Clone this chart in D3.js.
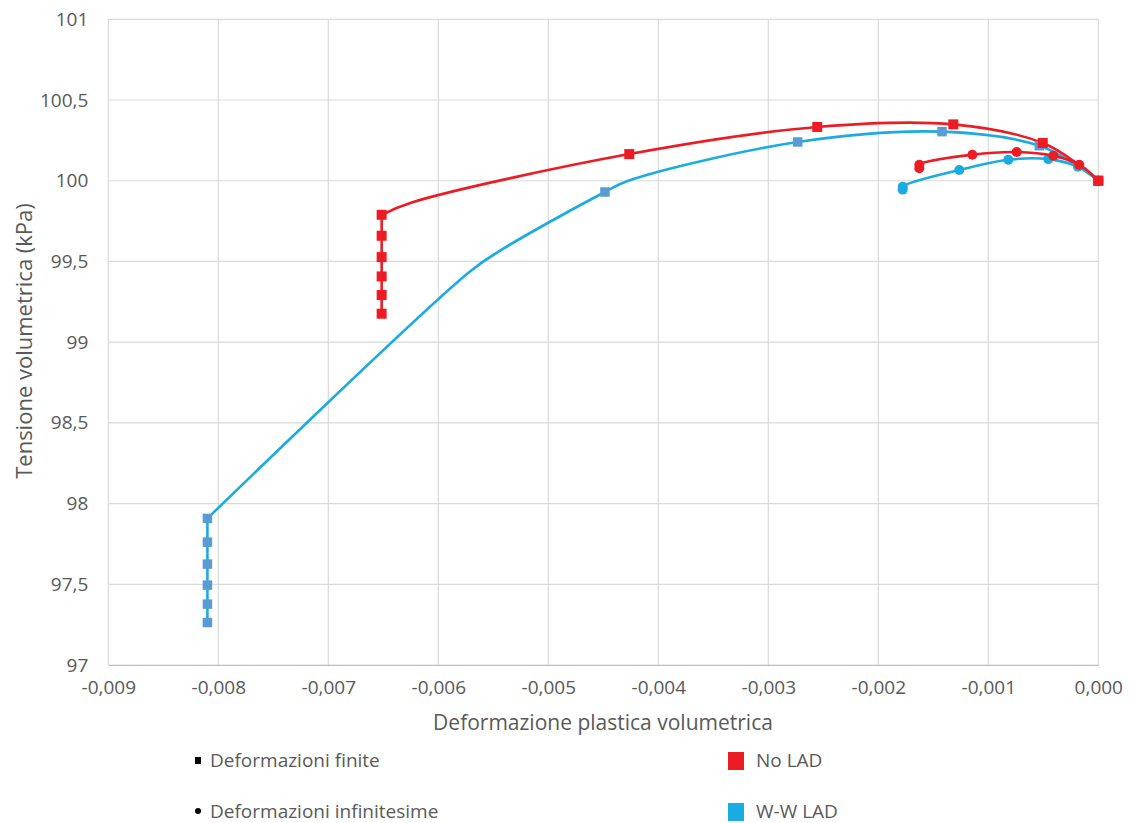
<!DOCTYPE html>
<html>
<head>
<meta charset="utf-8">
<script src="https://cdn.jsdelivr.net/npm/d3@7"></script>
<style>
  html, body { margin: 0; padding: 0; background: #fff; }
  svg { display: block; }
  text { font-family: "Open Sans", "DejaVu Sans", sans-serif; fill: #595959; }
</style>
</head>
<body>
<svg id="chart" width="1130" height="823"></svg>
<script>
// Axis ticks
const xTicks = [-0.009, -0.008, -0.007, -0.006, -0.005, -0.004, -0.003, -0.002, -0.001, 0];
const yTicks = [97, 97.5, 98, 98.5, 99, 99.5, 100, 100.5, 101];

// No LAD, finite strains (line through every point, markers where flagged)
const noLadFiniteStrain = [0, -0.000175, -0.000505, -0.001318, -0.002555, -0.004264, -0.006248, -0.006515, -0.006515, -0.006515, -0.006515, -0.006515, -0.006515];
const noLadFiniteStress = [100, 100.098, 100.234, 100.349, 100.333, 100.165, 99.864, 99.789, 99.659, 99.527, 99.407, 99.292, 99.176];
const noLadFiniteMarked = [1, 0, 1, 1, 1, 1, 0, 1, 1, 1, 1, 1, 1];

// W-W LAD, finite strains
const wwFiniteStrain = [0, -0.000185, -0.000536, -0.001421, -0.002733, -0.004273, -0.004485, -0.005409, -0.005712, -0.008099, -0.008099, -0.008099, -0.008099, -0.008099, -0.008099];
const wwFiniteStress = [100, 100.09, 100.217, 100.304, 100.240, 100.0, 99.930, 99.579, 99.438, 97.908, 97.761, 97.625, 97.495, 97.377, 97.263];
const wwFiniteMarked = [1, 0, 1, 1, 1, 0, 1, 0, 0, 1, 1, 1, 1, 1, 1];

// No LAD, infinitesimal strains
const noLadInfStrain = [0, -0.000173, -0.000409, -0.000742, -0.001145, -0.001627, -0.001627];
const noLadInfStress = [100, 100.099, 100.155, 100.178, 100.161, 100.099, 100.077];

// W-W LAD, infinitesimal strains
const wwInfStrain = [0, -0.000185, -0.000455, -0.000818, -0.001264, -0.001778, -0.001778];
const wwInfStress = [100, 100.087, 100.134, 100.130, 100.066, 99.963, 99.945];

const RED = "#ED1C24";
const CYAN = "#1AABE3";
const STEEL = "#5B9BD5";

const svg = d3.select("#chart");

const x = d3.scaleLinear().domain([-0.009, 0]).range([108.3, 1098.3]);
const y = d3.scaleLinear().domain([97, 101]).range([665, 19.3]);

const itLocale = d3.formatLocale({ decimal: ",", thousands: ".", grouping: [3], currency: ["", " €"], minus: "-" });
const fx = itLocale.format(".3f");
const fy = itLocale.format(".1~f");

// Gridlines
const grid = svg.append("g");
grid.selectAll("line.v").data(xTicks).join("line")
  .attr("x1", d => x(d)).attr("x2", d => x(d))
  .attr("y1", y(101)).attr("y2", y(97))
  .attr("stroke", "#D9D9D9").attr("stroke-width", 1.2);
grid.selectAll("line.h").data(yTicks).join("line")
  .attr("x1", x(-0.009)).attr("x2", x(0))
  .attr("y1", d => y(d)).attr("y2", d => y(d))
  .attr("stroke", "#D9D9D9").attr("stroke-width", 1.2);

// Axes (labels only; gridlines are drawn above)
const xAxis = svg.append("g").attr("transform", `translate(0,${y(97)})`)
  .call(d3.axisBottom(x).tickValues(xTicks).tickFormat(fx).tickSize(0).tickPadding(16));
xAxis.select(".domain").attr("stroke", "#BFBFBF").attr("stroke-width", 1.2);
xAxis.selectAll("text").attr("font-size", 19).attr("fill", "#595959")
  .attr("font-family", "'Open Sans', sans-serif");

const yAxis = svg.append("g").attr("transform", `translate(${x(-0.009)},0)`)
  .call(d3.axisLeft(y).tickValues(yTicks).tickFormat(fy).tickSize(0).tickPadding(20));
yAxis.select(".domain").remove();
yAxis.selectAll("text").attr("font-size", 19).attr("fill", "#595959")
  .attr("font-family", "'Open Sans', sans-serif");

// Axis titles
svg.append("text").attr("x", 603).attr("y", 730).attr("text-anchor", "middle")
  .attr("font-size", 21).text("Deformazione plastica volumetrica");
svg.append("text").attr("transform", "translate(32,341) rotate(-90)").attr("text-anchor", "middle")
  .attr("font-size", 22).text("Tensione volumetrica (kPa)");

// Series: the smooth branch runs from the origin to the top of the vertical
// unloading column; the column itself is a straight segment.
const smooth = d3.line().x(d => x(d[0])).y(d => y(d[1])).curve(d3.curveCatmullRom.alpha(0.5));
const straight = d3.line().x(d => x(d[0])).y(d => y(d[1]));
const zipPts = (xs, ys) => xs.map((v, i) => [v, ys[i]]);

function splitColumn(pts) {
  const xEnd = pts[pts.length - 1][0];
  const k = pts.findIndex(p => p[0] === xEnd);
  return { curve: pts.slice(0, k + 1), column: pts.slice(k) };
}

const finiteSeries = [
  { pts: zipPts(wwFiniteStrain, wwFiniteStress), marked: wwFiniteMarked, line: CYAN, mark: STEEL, sz: 9.5 },
  { pts: zipPts(noLadFiniteStrain, noLadFiniteStress), marked: noLadFiniteMarked, line: RED, mark: RED, sz: 10 }
];
const infSeries = [
  { pts: zipPts(wwInfStrain, wwInfStress), line: CYAN, mark: CYAN },
  { pts: zipPts(noLadInfStrain, noLadInfStress), line: RED, mark: RED }
];

finiteSeries.forEach(s => {
  const parts = splitColumn(s.pts);
  svg.append("path").attr("d", smooth(parts.curve)).attr("fill", "none")
    .attr("stroke", s.line).attr("stroke-width", 2.6).attr("stroke-linejoin", "round");
  svg.append("path").attr("d", straight(parts.column)).attr("fill", "none")
    .attr("stroke", s.line).attr("stroke-width", 2.6);
});
finiteSeries.forEach(s => {
  svg.append("g").selectAll("rect").data(s.pts.filter((d, i) => s.marked[i])).join("rect")
    .attr("x", d => x(d[0]) - s.sz / 2).attr("y", d => y(d[1]) - s.sz / 2)
    .attr("width", s.sz).attr("height", s.sz).attr("fill", s.mark);
});
infSeries.forEach(s => {
  svg.append("path").attr("d", smooth(s.pts)).attr("fill", "none")
    .attr("stroke", s.line).attr("stroke-width", 2.6).attr("stroke-linejoin", "round");
  svg.append("g").selectAll("circle").data(s.pts).join("circle")
    .attr("cx", d => x(d[0])).attr("cy", d => y(d[1])).attr("r", 5).attr("fill", s.mark);
});

// The red finite marker at the origin sits on top of everything
const origin = finiteSeries[1].pts[0];
svg.append("rect").attr("x", x(origin[0]) - 5).attr("y", y(origin[1]) - 5)
  .attr("width", 10).attr("height", 10).attr("fill", RED);

// Legend
const legend = svg.append("g");
legend.append("rect").attr("x", 195).attr("y", 757).attr("width", 6).attr("height", 7).attr("fill", "#000");
legend.append("text").attr("x", 210).attr("y", 767).attr("font-size", 19).attr("fill", "#000").text("Deformazioni finite");
legend.append("circle").attr("cx", 198).attr("cy", 811).attr("r", 3).attr("fill", "#000");
legend.append("text").attr("x", 210).attr("y", 818).attr("font-size", 19).attr("fill", "#000").text("Deformazioni infinitesime");

legend.append("rect").attr("x", 728).attr("y", 752).attr("width", 16).attr("height", 18).attr("fill", RED);
legend.append("text").attr("x", 756).attr("y", 767).attr("font-size", 19).attr("fill", "#000").text("No LAD");
legend.append("rect").attr("x", 728).attr("y", 803).attr("width", 16).attr("height", 18).attr("fill", CYAN);
legend.append("text").attr("x", 756).attr("y", 818).attr("font-size", 19).attr("fill", "#000").text("W-W LAD");
</script>
</body>
</html>
